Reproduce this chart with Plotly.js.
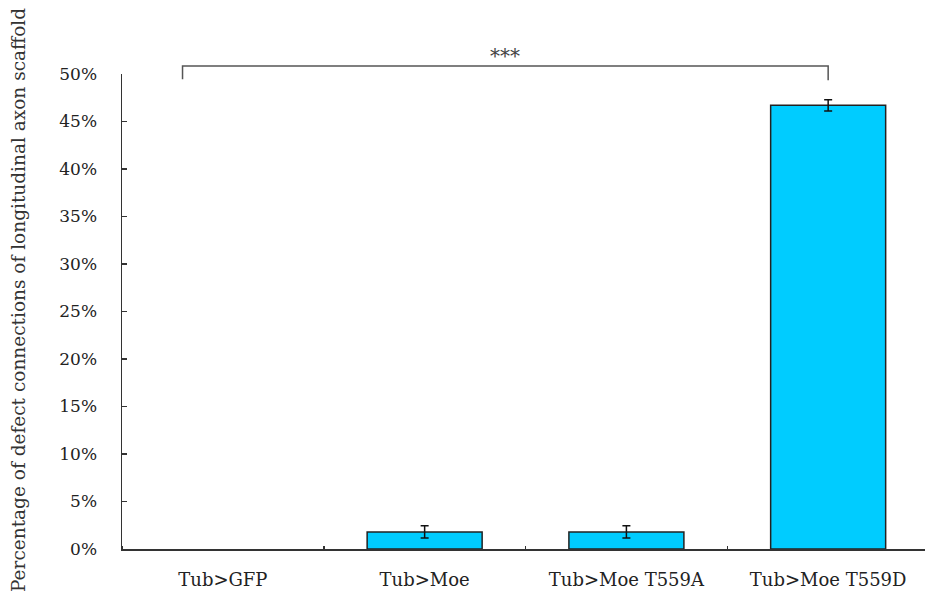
<!DOCTYPE html>
<html>
<head>
<meta charset="utf-8">
<script src="https://cdn.plot.ly/plotly-3.0.1.min.js"></script>
<style>html,body{margin:0;padding:0;background:#fff;}#chart{width:925px;height:603px;}</style>
</head>
<body>
<div id="chart"></div>
<script>
const categories = ["Tub>GFP", "Tub>Moe", "Tub>Moe T559A", "Tub>Moe T559D"];
const values = [0, 1.8, 1.8, 46.7];
const errors = [NaN, 0.65, 0.65, 0.6];
const yTicks = [0, 5, 10, 15, 20, 25, 30, 35, 40, 45, 50];
const bracketX = [-0.2, 3];
const sigLabel = "***";
const yTitle = "Percentage of defect connections of longitudinal axon scaffold";

const font = "DejaVu Serif, Liberation Serif, serif";

const trace = {
  type: "bar",
  x: categories.map((c, i) => i),
  y: values,
  width: 0.57,
  marker: { color: "#00CCFF", line: { color: "#222", width: values.map(v => v > 0 ? 1.5 : 0) } },
  error_y: { type: "data", array: errors, visible: true, color: "#111", thickness: 1.5, width: 4 },
  hoverinfo: "skip"
};

const layout = {
  width: 925, height: 603,
  margin: { l: 122, r: 0, t: 74, b: 54 },
  paper_bgcolor: "#fff", plot_bgcolor: "#fff",
  showlegend: false,
  font: { family: font, size: 16, color: "#222" },
  xaxis: {
    type: "linear",
    range: [-0.5, 3.48],
    tickvals: categories.map((c, i) => i),
    ticktext: categories,
    ticks: "",
    showline: true, linecolor: "#333", linewidth: 1.5,
    showgrid: false, zeroline: false,
    ticklabelstandoff: 14,
    tickfont: { family: font, size: 18, color: "#222" },
    minor: { tick0: 0.5, dtick: 1, ticks: "inside", ticklen: 3, tickcolor: "#333", tickwidth: 1.5, showgrid: false }
  },
  yaxis: {
    range: [0, 50],
    tickvals: yTicks,
    ticktext: yTicks.map(v => v + "%"),
    ticks: "inside", ticklen: 5, tickcolor: "#333", tickwidth: 1.5,
    showline: true, linecolor: "#333", linewidth: 1.5,
    showgrid: false, zeroline: false,
    ticklabelstandoff: 20,
    tickfont: { family: font, size: 17, color: "#222" }
  },
  shapes: [{
    type: "path", xref: "x", yref: "paper",
    path: "M " + bracketX[0] + " 0.989 L " + bracketX[0] + " 1.0168 L " + bracketX[1] + " 1.0168 L " + bracketX[1] + " 0.987",
    line: { color: "#555", width: 1.5 }
  }],
  annotations: [{
    xref: "x", yref: "paper", x: (bracketX[0] + bracketX[1]) / 2, y: 1.068,
    text: sigLabel, showarrow: false, font: { family: font, size: 20, color: "#444" }
  }, {
    xref: "paper", yref: "paper", x: (18 - 122) / 803, y: (549 - 300) / 475,
    xanchor: "center", yanchor: "middle", textangle: -90,
    text: yTitle, showarrow: false, font: { family: font, size: 18.5, color: "#333" }
  }]
};

Plotly.newPlot("chart", [trace], layout, { displayModeBar: false, staticPlot: true });
</script>
</body>
</html>
